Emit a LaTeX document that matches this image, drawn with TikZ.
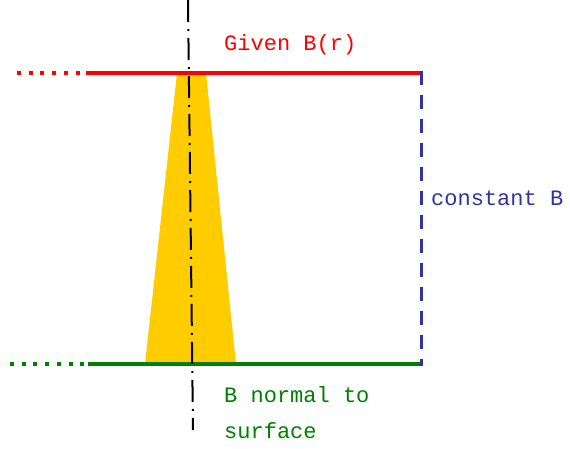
\documentclass[tikz,border=0pt]{standalone}
\usepackage{fontspec}
\setmainfont{Liberation Mono}
\definecolor{redline}{HTML}{FF0000}
\definecolor{greenline}{HTML}{008000}
\definecolor{bluedash}{HTML}{3333A0}
\definecolor{gold}{HTML}{FFCC00}
\tikzset{
  axisline/.style={black, line width=2pt, dash pattern=on 22pt off 7pt on 2pt off 7pt},
  solidline/.style={line width=4.5pt},
  dotline/.style={line width=4.5pt, dash pattern=on 4pt off 7.7pt},
  lbl/.style={font=\fontsize{22}{36}\selectfont, inner sep=0pt},
}
\begin{document}
\begin{tikzpicture}[x=1pt,y=-1pt]
\useasboundingbox (0,0) rectangle (570,448);
% coordinates
\coordinate (rl) at (17,73);
\coordinate (rm) at (86,73);
\coordinate (rr) at (421,73);
\coordinate (gl) at (10,364);
\coordinate (gm) at (88,364);
\coordinate (gr) at (421,364);
\coordinate (axtop) at (188,0);
\coordinate (axbot) at (193,430);
% cone
\fill[gold] (177,73) -- (206,73) -- (236,364) -- (145,364) -- cycle;
% lines
\draw[redline, dotline] (rl) -- (rm);
\draw[redline, solidline] (rm) -- (rr);
\draw[greenline, dotline] (gl) -- (gm);
\draw[greenline, solidline] (gm) -- (gr);
\draw[bluedash, line width=3pt, dash pattern=on 14pt off 10pt] ([yshift=2pt]rr) -- ([yshift=-2pt]gr);
\draw[axisline] (axtop) -- (axbot);
% labels
\node[lbl, text=redline, anchor=west] (given) at (224,45) {Given B(r)};
\node[lbl, text=bluedash, anchor=west] (const) at (431,198) {constant B};
\node[lbl, text=greenline, anchor=north west, align=left] (normal) at (224,386) {B normal to\\surface};
\end{tikzpicture}
\end{document}
